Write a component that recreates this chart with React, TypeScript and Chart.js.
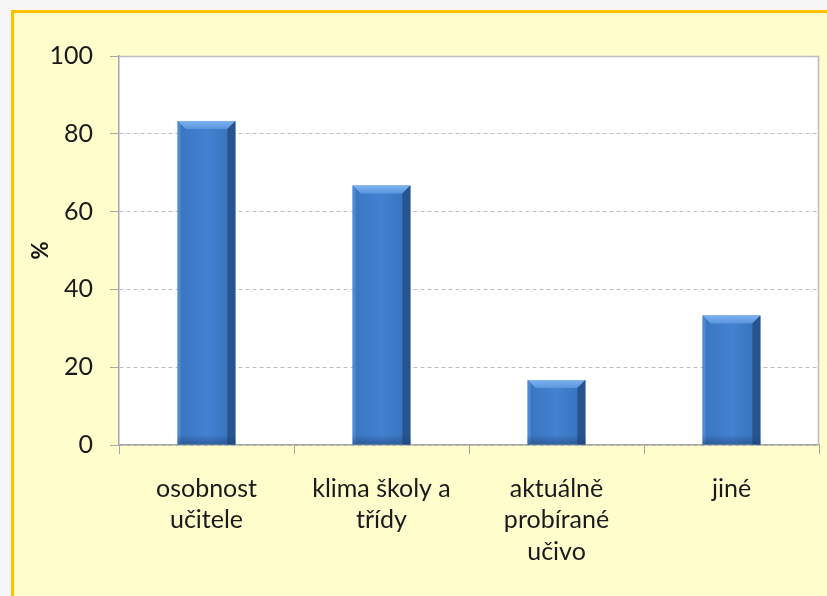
import React, { useEffect, useRef } from "react";
import { Chart, registerables } from "chart.js";

Chart.register(...registerables);

const categories: string[][] = [
  ["osobnost", "učitele"],
  ["klima školy a", "třídy"],
  ["aktuálně", "probírané", "učivo"],
  ["jiné"],
];
const values: number[] = [83.3, 66.7, 16.7, 33.3];
const yTicks: number[] = [0, 20, 40, 60, 80, 100];
const yTitle = "%";

const plotAreaPlugin = {
  id: "plotArea",
  beforeDraw(chart: any) {
    const { ctx, chartArea: a } = chart;
    ctx.save();
    ctx.fillStyle = "#FFFFFF";
    ctx.fillRect(a.left, a.top, a.right - a.left, a.bottom - a.top);
    ctx.restore();
  },
  afterDraw(chart: any) {
    const { ctx, chartArea: a } = chart;
    ctx.save();
    ctx.strokeStyle = "#BDBDBD";
    ctx.lineWidth = 1.5;
    ctx.beginPath();
    ctx.moveTo(a.left, a.top + 0.5);
    ctx.lineTo(a.right - 0.5, a.top + 0.5);
    ctx.lineTo(a.right - 0.5, a.bottom);
    ctx.stroke();
    ctx.restore();
  },
};

const bevelPlugin = {
  id: "bevel",
  afterDatasetsDraw(chart: any) {
    const { ctx } = chart;
    const meta = chart.getDatasetMeta(0);
    ctx.save();
    meta.data.forEach((bar: any) => {
      const w = bar.width;
      const l = bar.x - w / 2;
      const r = bar.x + w / 2;
      const t = bar.y;
      const b = bar.base;
      const h = b - t;
      const d = Math.min(8, h / 3);
      const g = ctx.createLinearGradient(l, 0, r, 0);
      g.addColorStop(0, "#3A74BE");
      g.addColorStop(0.5, "#4282D2");
      g.addColorStop(1, "#3670B8");
      ctx.fillStyle = g;
      ctx.fillRect(l, t, w, h);
      // top bevel
      const gt = ctx.createLinearGradient(0, t, 0, t + d);
      gt.addColorStop(0, "#7DB2EE");
      gt.addColorStop(1, "#5A95DE");
      ctx.fillStyle = gt;
      ctx.beginPath();
      ctx.moveTo(l, t);
      ctx.lineTo(r, t);
      ctx.lineTo(r - d, t + d);
      ctx.lineTo(l + d, t + d);
      ctx.closePath();
      ctx.fill();
      // left bevel
      ctx.fillStyle = "#4C89D6";
      ctx.beginPath();
      ctx.moveTo(l, t);
      ctx.lineTo(l + 3, t + 3);
      ctx.lineTo(l + 3, b);
      ctx.lineTo(l, b);
      ctx.closePath();
      ctx.fill();
      // right bevel
      ctx.fillStyle = "#27548F";
      ctx.beginPath();
      ctx.moveTo(r, t);
      ctx.lineTo(r - d, t + d);
      ctx.lineTo(r - d, b);
      ctx.lineTo(r, b);
      ctx.closePath();
      ctx.fill();
      // bottom shade
      const gb = ctx.createLinearGradient(0, b - 10, 0, b);
      gb.addColorStop(0, "rgba(30,60,110,0)");
      gb.addColorStop(1, "rgba(30,60,110,0.5)");
      ctx.fillStyle = gb;
      ctx.fillRect(l, b - 10, w, 10);
    });
    ctx.restore();
  },
};

export default function App() {
  const ref = useRef<HTMLCanvasElement | null>(null);
  useEffect(() => {
    document.body.style.margin = "0";
    const chart = new Chart(ref.current!, {
      type: "bar",
      data: {
        labels: categories,
        datasets: [
          {
            data: values,
            backgroundColor: "rgba(0,0,0,0)",
            categoryPercentage: 1,
            barPercentage: 0.33,
          },
        ],
      },
      options: {
        responsive: false,
        animation: false,
        layout: { padding: { left: 0, top: 56, right: 8, bottom: 0 } },
        plugins: { legend: { display: false }, tooltip: { enabled: false } },
        scales: {
          x: {
            grid: {
              drawOnChartArea: false,
              drawTicks: true,
              tickLength: 9,
              color: "#A6A6A6",
              offset: true,
            },
            border: { color: "#A6A6A6", width: 1.5 },
            ticks: {
              color: "#1a1a1a",
              font: { family: "Lato", size: 25, lineHeight: 1.26 },
              padding: 19,
              maxRotation: 0,
              autoSkip: false,
            },
            afterFit: (s: any) => {
              s.height = 596 - 445;
            },
          },
          y: {
            min: 0,
            max: 100,
            afterBuildTicks: (s: any) => {
              s.ticks = yTicks.map((v) => ({ value: v }));
            },
            grid: {
              color: "#BDBDBD",
              tickLength: 9,
              tickColor: "#A6A6A6",
            },
            border: { color: "#A6A6A6", width: 1.5, dash: [4, 3] } as any,
            ticks: {
              color: "#1a1a1a",
              font: { family: "Lato", size: 25 },
              padding: 17,
            },
            title: {
              display: true,
              text: yTitle,
              color: "#111",
              font: { family: "Lato", size: 22, weight: "bold" },
              padding: { top: 28, bottom: 0 },
            },
            afterFit: (s: any) => {
              s.width = 119;
            },
          },
        },
      },
      plugins: [plotAreaPlugin, bevelPlugin],
    });
    return () => chart.destroy();
  }, []);

  return (
    <div
      style={{
        position: "fixed",
        left: 0,
        top: 0,
        width: 827,
        height: 596,
        background: "#F6F6F6",
      }}
    >
      <div
        style={{
          position: "absolute",
          left: 11,
          top: 10,
          right: 0,
          bottom: 0,
          background: "#FFFDCC",
          borderLeft: "3px solid #FFC000",
          borderTop: "3px solid #FFC000",
        }}
      />
      <canvas
        ref={ref}
        width={827}
        height={596}
        style={{ position: "absolute", left: 0, top: 0, width: 827, height: 596 }}
      />
    </div>
  );
}
